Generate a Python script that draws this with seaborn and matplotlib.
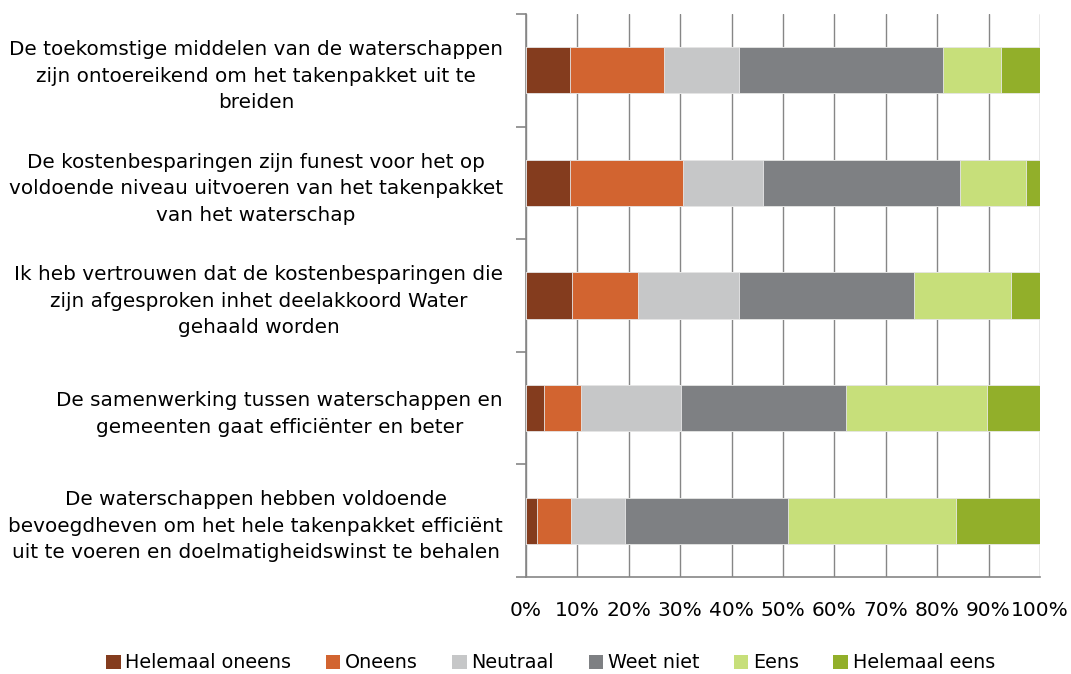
import matplotlib
matplotlib.use("Agg")
import matplotlib.pyplot as plt
import matplotlib.ticker as mticker
from matplotlib.patches import Patch
import seaborn as sns
import pandas as pd
import numpy as np

# Statements (top to bottom)
statements = [
    "De toekomstige middelen van de waterschappen\nzijn ontoereikend om het takenpakket uit te\nbreiden",
    "De kostenbesparingen zijn funest voor het op\nvoldoende niveau uitvoeren van het takenpakket\nvan het waterschap",
    "Ik heb vertrouwen dat de kostenbesparingen die\nzijn afgesproken inhet deelakkoord Water\ngehaald worden",
    "De samenwerking tussen waterschappen en\ngemeenten gaat efficiënter en beter",
    "De waterschappen hebben voldoende\nbevoegdheven om het hele takenpakket efficiënt\nuit te voeren en doelmatigheidswinst te behalen",
]

answers = ["Helemaal oneens", "Oneens", "Neutraal", "Weet niet", "Eens", "Helemaal eens"]

# Share of respondents per answer (%), one list per answer, in statement order
helemaal_oneens = [8.5, 8.5, 8.9, 3.6, 2.2]
oneens = [18.3, 22.1, 12.8, 7.2, 6.6]
neutraal = [14.7, 15.6, 19.8, 19.4, 10.5]
weet_niet = [39.6, 38.3, 34.0, 32.1, 31.6]
eens = [11.3, 12.8, 18.9, 27.5, 32.6]
helemaal_eens = [7.6, 2.8, 5.6, 10.3, 16.4]

colors = ["#843C1E", "#D26430", "#C6C7C8", "#7E8083", "#C7DF7A", "#92AF2A"]

df = pd.DataFrame(
    {
        "stelling": statements,
        "Helemaal oneens": helemaal_oneens,
        "Oneens": oneens,
        "Neutraal": neutraal,
        "Weet niet": weet_niet,
        "Eens": eens,
        "Helemaal eens": helemaal_eens,
    }
)
# Normalise each row to 100%
vals = df[answers].to_numpy(dtype=float)
vals = vals / vals.sum(axis=1, keepdims=True) * 100
cum = np.cumsum(vals, axis=1)

sns.set_theme(style="white")
plt.rcParams["font.family"] = ["DejaVu Sans"]
plt.rcParams["text.color"] = "black"
plt.rcParams["xtick.labelcolor"] = "black"
plt.rcParams["ytick.labelcolor"] = "black"

fig = plt.figure(figsize=(10.71, 6.74), dpi=100)
ax = fig.add_axes([526 / 1071, 1 - 577 / 674, (1040 - 526) / 1071, (577 - 14) / 674])

# Stacked bars: draw cumulative totals from the largest down
for i in range(len(answers) - 1, -1, -1):
    layer = pd.DataFrame({"stelling": statements, "pct": cum[:, i]})
    sns.barplot(
        data=layer, x="pct", y="stelling", orient="h", color=colors[i],
        width=0.41, edgecolor="#e8e8e8", linewidth=0.6, saturation=1,
        ax=ax, zorder=3,
    )

ax.set_xlim(0, 100)
ax.set_ylim(4.5, -0.5)
ax.xaxis.set_major_locator(mticker.MultipleLocator(10))
ax.xaxis.set_major_formatter(mticker.FuncFormatter(lambda v, p: f"{v:.0f}%"))
ax.set_xlabel("")
ax.set_ylabel("")

ax.grid(axis="x", color="#868686", linewidth=1.0, zorder=0)
ax.set_axisbelow(True)
for side in ["top", "right"]:
    ax.spines[side].set_visible(False)
for side in ["left", "bottom"]:
    ax.spines[side].set_color("#868686")
    ax.spines[side].set_linewidth(1.2)

ax.tick_params(axis="x", which="major", direction="out", length=6, width=1.2,
               color="#868686", labelsize=14.5, pad=11, labelcolor="black")
ax.tick_params(axis="y", which="major", length=0, pad=16.5, labelcolor="black")
ax.yaxis.set_minor_locator(mticker.FixedLocator(np.arange(-0.5, 5.0, 1.0)))
ax.tick_params(axis="y", which="minor", direction="out", length=7, width=1.2,
               color="#868686", left=True)

for lbl in ax.get_yticklabels():
    lbl.set_fontsize(14.4)
    lbl.set_multialignment("center")
    lbl.set_linespacing(1.5)
    lbl.set_color("black")

handles = [Patch(facecolor=c, edgecolor="none") for c in colors]
leg = fig.legend(
    handles, answers, loc="center", bbox_to_anchor=(0.514, 1 - 663 / 674),
    ncol=6, frameon=False, fontsize=13.8, handlelength=0.75, handleheight=0.75,
    handletextpad=0.25, columnspacing=1.8,
)
for t in leg.get_texts():
    t.set_color("black")

fig.savefig("out.png", dpi=100)
